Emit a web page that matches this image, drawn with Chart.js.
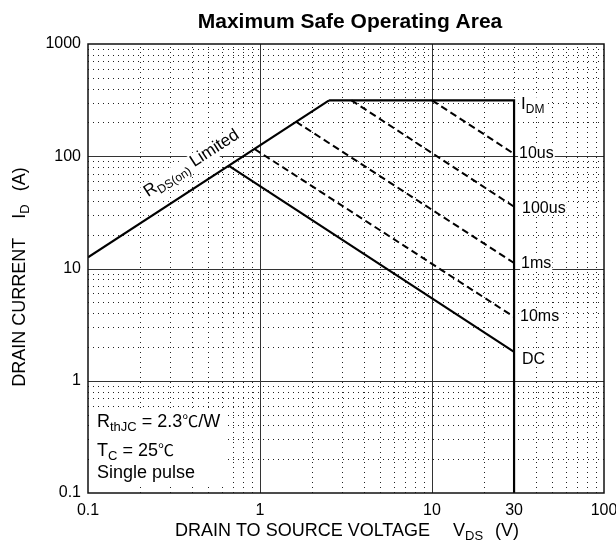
<!DOCTYPE html>
<html>
<head>
<meta charset="utf-8">
<script src="https://cdn.jsdelivr.net/npm/chart.js@4.4.0/dist/chart.umd.min.js"></script>
<style>
  html, body { margin: 0; padding: 0; background: #fff; }
</style>
</head>
<body>
<canvas id="soa" width="616" height="547"></canvas>
<script>
// ===========================
// SOA data: V_DS (V) / I_D (A)
// ===========================
const xTicks = [0.1, 1, 10, 30, 100];
const yTicks = [0.1, 1, 10, 100, 1000];

const rdsV = [0.1, 2.52];     const rdsI = [12.6, 315];
const idmV = [2.52, 30, 30];  const idmI = [315, 315, 0.1];
const us10V = [10, 30];       const us10I = [315, 105];
const us100V = [3.4, 30];     const us100I = [315, 35.5];
const ms1V = [1.62, 30];      const ms1I = [203, 11.2];
const ms10V = [0.93, 30];     const ms10I = [116, 3.7];
const dcV = [0.66, 30];       const dcI = [82, 1.81];

const FONT = '"Liberation Sans", Arial, sans-serif';
const CJK = '"Noto Sans CJK SC", sans-serif';

function pts(xs, ys) {
  return xs.map((x, i) => ({ x, y: ys[i] }));
}

// rich text (subscripts) helper
function richWidth(ctx, segs) {
  let w = 0;
  segs.forEach(s => { ctx.font = s.f; w += ctx.measureText(s.t).width + (s.gap || 0); });
  return w;
}
function drawRich(ctx, x, y, segs, align, bg) {
  const w = richWidth(ctx, segs);
  let cx = align === 'center' ? x - w / 2 : x;
  if (bg) {
    ctx.fillStyle = '#fff';
    ctx.fillRect(cx - 1, y - bg[0], w + 2, bg[0] + bg[1]);
  }
  ctx.fillStyle = '#000';
  ctx.textAlign = 'left';
  ctx.textBaseline = 'alphabetic';
  segs.forEach(s => {
    ctx.font = s.f;
    cx += (s.gap || 0);
    ctx.fillText(s.t, cx, y + (s.dy || 0));
    cx += ctx.measureText(s.t).width;
  });
}

const big = '18px ' + FONT;
const sub = '13px ' + FONT;
const lab = '16px ' + FONT;
const labSub = '12px ' + FONT;

// grid, labels, titles
const soaPlugin = {
  id: 'soa',
  beforeDatasetsDraw(chart) {
    const { ctx, chartArea: a, scales: { x, y } } = chart;
    ctx.save();
    ctx.beginPath();
    ctx.rect(a.left, a.top, a.right - a.left, a.bottom - a.top);
    ctx.clip();

    // minor dotted grid
    ctx.strokeStyle = '#222';
    ctx.lineWidth = 1;
    ctx.setLineDash([1, 4]);
    [0.1, 1, 10].forEach(d => {
      for (let k = 2; k <= 9; k++) {
        const p = Math.round(x.getPixelForValue(d * k)) + 0.5;
        ctx.beginPath(); ctx.moveTo(p, a.bottom); ctx.lineTo(p, a.top); ctx.stroke();
      }
    });
    [0.1, 1, 10, 100].forEach(d => {
      for (let k = 2; k <= 9; k++) {
        const p = Math.round(y.getPixelForValue(d * k)) + 0.5;
        ctx.beginPath(); ctx.moveTo(a.left, p); ctx.lineTo(a.right, p); ctx.stroke();
      }
    });

    // major solid grid
    ctx.setLineDash([]);
    ctx.strokeStyle = '#333';
    [1, 10].forEach(v => {
      const p = Math.round(x.getPixelForValue(v)) + 0.5;
      ctx.beginPath(); ctx.moveTo(p, a.bottom); ctx.lineTo(p, a.top); ctx.stroke();
    });
    [1, 10, 100].forEach(v => {
      const p = Math.round(y.getPixelForValue(v)) + 0.5;
      ctx.beginPath(); ctx.moveTo(a.left, p); ctx.lineTo(a.right, p); ctx.stroke();
    });

    // notes box
    ctx.fillStyle = '#fff';
    ctx.fillRect(a.left + 1, 408, 139, 79);
    drawRich(ctx, 97, 427, [
      { t: 'R', f: big }, { t: 'thJC', f: sub, dy: 4 }, { t: ' = 2.3', f: big },
      { t: '℃', f: '16px ' + CJK }, { t: '/W', f: big }
    ], 'left');
    drawRich(ctx, 97, 456, [
      { t: 'T', f: big }, { t: 'C', f: sub, dy: 4 }, { t: ' = 25', f: big },
      { t: '℃', f: '16px ' + CJK }
    ], 'left');
    drawRich(ctx, 97, 478, [{ t: 'Single pulse', f: big }], 'left');

    // curve labels at V = 30
    const x30 = x.getPixelForValue(30);
    const labs = [
      { segs: [{ t: 'I', f: '17px ' + FONT }, { t: 'DM', f: labSub, dy: 4 }], v: idmI[0], dx: 7, dy: 9 },
      { segs: [{ t: '10us', f: lab }], v: us10I[1], dx: 5, dy: 4 },
      { segs: [{ t: '100us', f: lab }], v: us100I[1], dx: 8, dy: 6 },
      { segs: [{ t: '1ms', f: lab }], v: ms1I[1], dx: 7, dy: 5 },
      { segs: [{ t: '10ms', f: lab }], v: ms10I[1], dx: 6, dy: 4 },
      { segs: [{ t: 'DC', f: lab }], v: dcI[1], dx: 8, dy: 12 }
    ];
    labs.forEach(l => {
      drawRich(ctx, x30 + l.dx, y.getPixelForValue(l.v) + l.dy, l.segs, 'left', [12, 2]);
    });

    // RDS(on) Limited label, along the line
    const p0x = x.getPixelForValue(rdsV[0]), p0y = y.getPixelForValue(rdsI[0]);
    const p1x = x.getPixelForValue(rdsV[1]), p1y = y.getPixelForValue(rdsI[1]);
    const ang = Math.atan2(p0y - p1y, p1x - p0x);
    const t = (Math.log(0.254) - Math.log(rdsV[0])) / (Math.log(rdsV[1]) - Math.log(rdsV[0]));
    const ax = p0x + t * (p1x - p0x), ay = p0y + t * (p1y - p0y);
    const off = 17.5;
    ctx.translate(ax - off * Math.sin(ang), ay - off * Math.cos(ang));
    ctx.rotate(-ang);
    drawRich(ctx, 0, 0, [
      { t: 'R', f: '17px ' + FONT }, { t: 'DS(on)', f: labSub, dy: 4 }, { t: ' Limited', f: '17px ' + FONT }
    ], 'left', [13, 5]);
    ctx.restore();
  },
  afterDatasetsDraw(chart) {
    const { ctx, chartArea: a } = chart;
    ctx.save();
    ctx.strokeStyle = '#111';
    ctx.lineWidth = 1.5;
    ctx.strokeRect(a.left, a.top, a.right - a.left, a.bottom - a.top);

    // title
    ctx.fillStyle = '#000';
    ctx.font = 'bold 21px ' + FONT;
    ctx.textAlign = 'center';
    ctx.textBaseline = 'alphabetic';
    ctx.fillText('Maximum Safe Operating Area', 350, 28);

    // axis titles
    drawRich(ctx, 347, 536, [
      { t: 'DRAIN TO SOURCE VOLTAGE', f: big }, { t: 'V', f: big, gap: 23 },
      { t: 'DS', f: sub, dy: 4 }, { t: '(V)', f: big, gap: 12 }
    ], 'center');
    ctx.translate(25, 277);
    ctx.rotate(-Math.PI / 2);
    drawRich(ctx, 0, 0, [
      { t: 'DRAIN CURRENT', f: big }, { t: 'I', f: big, gap: 19 },
      { t: 'D', f: sub, dy: 4 }, { t: '(A)', f: big, gap: 13 }
    ], 'center');
    ctx.restore();
  }
};

const solid = { borderColor: '#000', borderWidth: 2.2, pointRadius: 0, showLine: true, fill: false };
const dashed = { ...solid, borderWidth: 2, borderDash: [7, 4] };

new Chart(document.getElementById('soa'), {
  type: 'scatter',
  data: {
    datasets: [
      { ...solid, label: 'RDS(on) Limited', data: pts(rdsV, rdsI) },
      { ...solid, label: 'IDM', data: pts(idmV, idmI) },
      { ...dashed, label: '10us', data: pts(us10V, us10I) },
      { ...dashed, label: '100us', data: pts(us100V, us100I) },
      { ...dashed, label: '1ms', data: pts(ms1V, ms1I) },
      { ...dashed, label: '10ms', data: pts(ms10V, ms10I) },
      { ...solid, label: 'DC', data: pts(dcV, dcI) }
    ]
  },
  options: {
    responsive: false,
    animation: false,
    layout: { padding: { top: 44, right: 12, left: 0, bottom: 0 } },
    plugins: { legend: { display: false }, tooltip: { enabled: false } },
    scales: {
      x: {
        type: 'logarithmic', min: 0.1, max: 100,
        grid: { display: false, drawTicks: false },
        border: { display: false },
        afterBuildTicks: s => { s.ticks = xTicks.map(v => ({ value: v })); },
        afterFit: s => { s.height = 54; s.paddingLeft = 0; s.paddingRight = 0; },
        ticks: {
          autoSkip: false, maxRotation: 0, padding: 8, color: '#000',
          font: { family: FONT, size: 16 },
          callback: v => String(v)
        }
      },
      y: {
        type: 'logarithmic', min: 0.1, max: 1000,
        grid: { display: false, drawTicks: false },
        border: { display: false },
        afterBuildTicks: s => { s.ticks = yTicks.map(v => ({ value: v })); },
        afterFit: s => { s.width = 88; s.paddingTop = 0; s.paddingBottom = 0; },
        ticks: {
          autoSkip: false, padding: 7, color: '#000',
          font: { family: FONT, size: 16 },
          callback: v => String(v)
        }
      }
    }
  },
  plugins: [soaPlugin]
});
</script>
</body>
</html>
